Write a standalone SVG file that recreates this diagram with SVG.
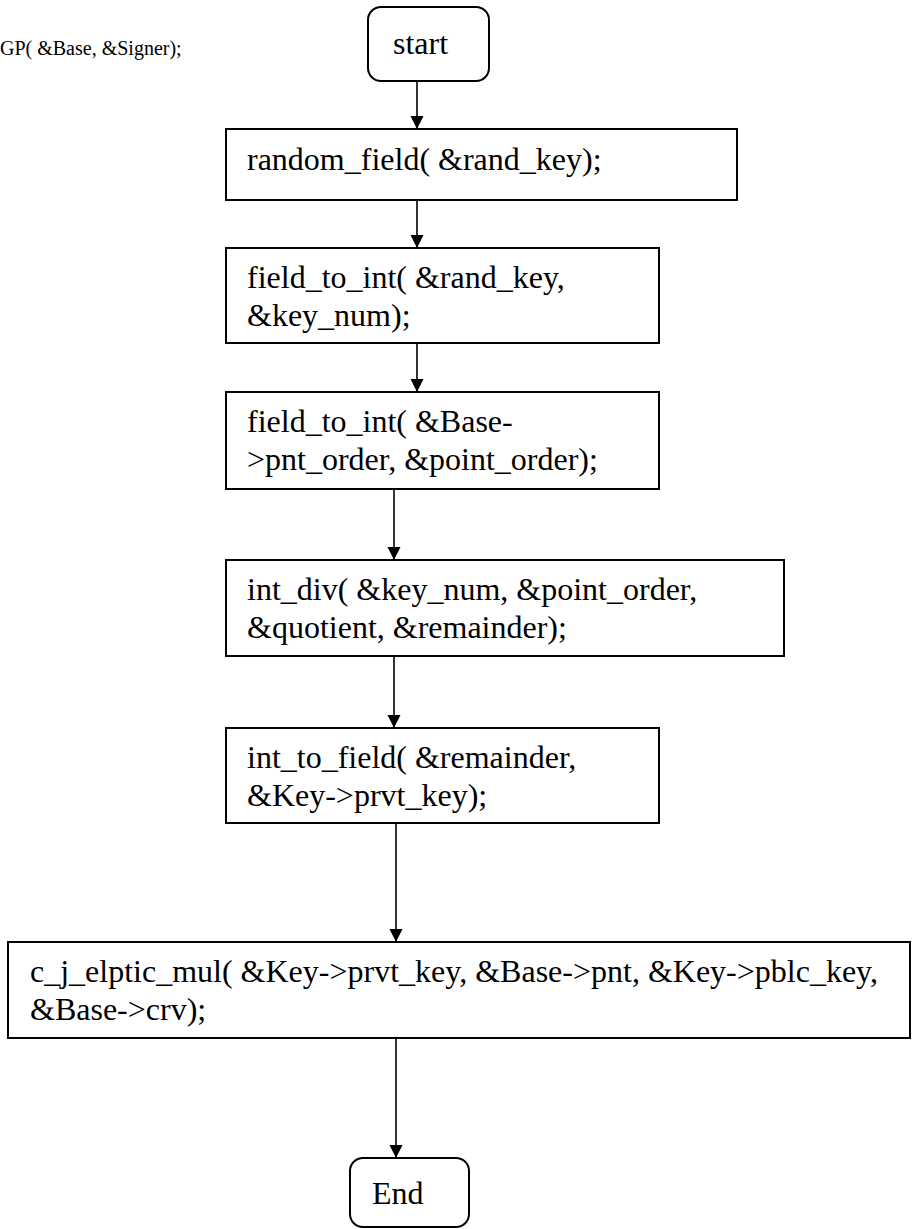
<svg xmlns="http://www.w3.org/2000/svg" width="912" height="1229" viewBox="0 0 912 1229">
<style>
.box{fill:#fff;stroke:#000;stroke-width:2}
.t{font-family:"Liberation Serif","Times New Roman",serif;font-size:32px;fill:#000}
.s{font-family:"Liberation Serif","Times New Roman",serif;font-size:20px;fill:#000}
.c{stroke:#000;stroke-width:1.6;fill:none;marker-end:url(#ah)}
</style>
<defs>
<marker id="ah" markerWidth="14" markerHeight="14" refX="13" refY="6.5" orient="auto" markerUnits="userSpaceOnUse">
<path d="M0,0 L13,6.5 L0,13 Z" fill="#000"/>
</marker>
</defs>
<text class="s" x="0" y="55">GP( &amp;Base, &amp;Signer);</text>
<g id="connectors">
<line class="c" x1="417" y1="81" x2="417" y2="129"/>
<line class="c" x1="417" y1="200" x2="417" y2="248"/>
<line class="c" x1="417" y1="343" x2="417" y2="392"/>
<line class="c" x1="394" y1="489" x2="394" y2="560"/>
<line class="c" x1="394" y1="656" x2="394" y2="728"/>
<line class="c" x1="396" y1="823" x2="396" y2="942"/>
<line class="c" x1="396" y1="1038" x2="396" y2="1158"/>
</g>
<g id="start">
<rect class="box" x="368" y="7" width="121" height="74" rx="13"/>
<text class="t" x="393" y="54">start</text>
</g>
<g id="random_field">
<rect class="box" x="226" y="129" width="511" height="71"/>
<text class="t" x="247" y="170">random_field( &amp;rand_key);</text>
</g>
<g id="field_to_int_1">
<rect class="box" x="226" y="248" width="433" height="95"/>
<text class="t" x="247" y="288">field_to_int( &amp;rand_key,</text>
<text class="t" x="247" y="326">&amp;key_num);</text>
</g>
<g id="field_to_int_2">
<rect class="box" x="226" y="392" width="433" height="97"/>
<text class="t" x="247" y="432">field_to_int( &amp;Base-</text>
<text class="t" x="247" y="470">&gt;pnt_order, &amp;point_order);</text>
</g>
<g id="int_div">
<rect class="box" x="226" y="560" width="558" height="96"/>
<text class="t" x="247" y="600">int_div( &amp;key_num, &amp;point_order,</text>
<text class="t" x="247" y="638">&amp;quotient, &amp;remainder);</text>
</g>
<g id="int_to_field">
<rect class="box" x="226" y="728" width="433" height="95"/>
<text class="t" x="247" y="768">int_to_field( &amp;remainder,</text>
<text class="t" x="247" y="806">&amp;Key-&gt;prvt_key);</text>
</g>
<g id="c_j_elptic_mul">
<rect class="box" x="8" y="942" width="902" height="96"/>
<text class="t" x="30" y="982">c_j_elptic_mul( &amp;Key-&gt;prvt_key, &amp;Base-&gt;pnt, &amp;Key-&gt;pblc_key,</text>
<text class="t" x="30" y="1020">&amp;Base-&gt;crv);</text>
</g>
<g id="end">
<rect class="box" x="350" y="1158" width="119" height="69" rx="13"/>
<text class="t" x="372" y="1204">End</text>
</g>
</svg>
